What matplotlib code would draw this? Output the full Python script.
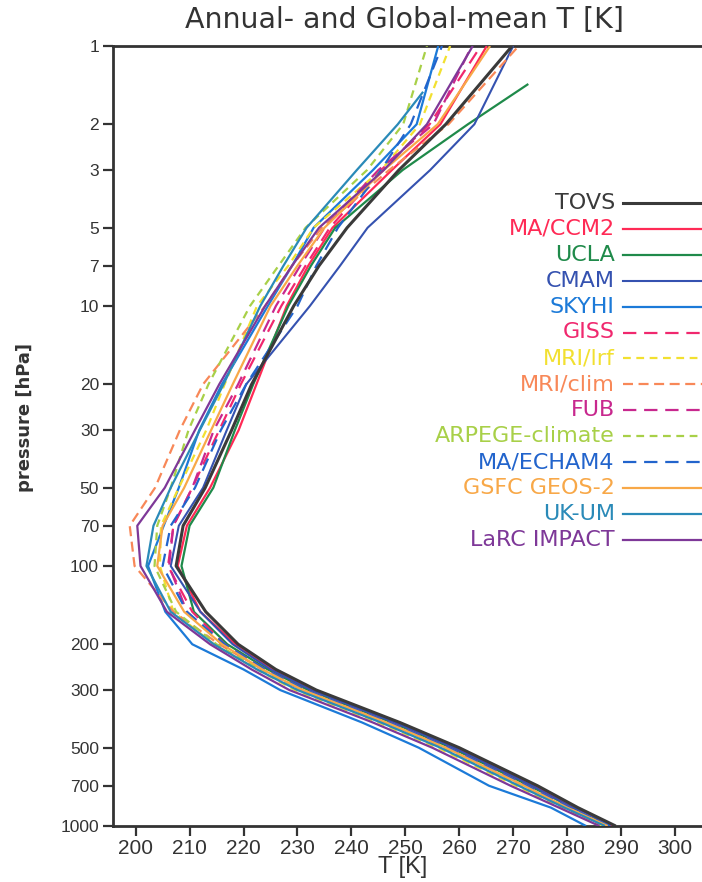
import numpy as np
import matplotlib
matplotlib.use('Agg')
import matplotlib.pyplot as plt

# pressure levels [hPa] shared by all profiles (last level may differ, see top_p)
levels = [1000, 850, 700, 500, 400, 300, 250, 200, 150, 100,
          70, 50, 30, 20, 10, 7, 5, 3, 2, 1]

names = ['TOVS', 'MA/CCM2', 'UCLA', 'CMAM', 'SKYHI', 'GISS', 'MRI/lrf',
         'MRI/clim', 'FUB', 'ARPEGE-climate', 'MA/ECHAM4', 'GSFC GEOS-2',
         'UK-UM', 'LaRC IMPACT']

# temperature [K], one list per model, ordered as levels
t_tovs = [289, 282, 274.5, 260, 249, 233.5, 226, 219, 213, 207.5,
          208.8, 212.9, 217.8, 221.5, 229.3, 234, 239.2, 248.8, 257.5, 269.8]
t_ccm2 = [288.5, 281.5, 274, 259.5, 248.5, 233, 225.5, 218.5, 212, 207.8,
          209.5, 213.8, 219.1, 222.4, 228, 232, 236.5, 247.5, 256.5, 265.1]
t_ucla = [288, 281, 273, 258.5, 247.5, 232, 224.5, 217, 210.8, 208.5,
          210, 214.4, 218.4, 221.8, 228.3, 232.5, 237, 249.5, 261.6, 272.8]
t_cmam = [288, 281, 273.5, 259, 248, 232.5, 225, 218, 212, 206.5,
          208, 212.5, 216.9, 220.5, 232.3, 237.9, 243, 254.6, 262.8, 270]
t_skyhi = [283.5, 277, 265.5, 252.5, 242, 226.8, 220, 210.5, 205.5, 202.3,
           205.2, 208, 211.8, 216, 224.5, 229, 233, 244, 252.1, 256.1]
t_giss = [288, 280.5, 272.5, 258, 247, 231.5, 224, 216.5, 210.5, 206,
          207, 210.5, 215.5, 219.5, 227, 231.5, 236, 245.5, 254.5, 264]
t_mrilrf = [286.5, 279, 270.5, 256, 245, 229.5, 222.5, 214.5, 207, 204.5,
            204.7, 208, 213.1, 216.5, 222.5, 228.3, 233, 245.5, 252.7, 258.3]
t_mriclim = [287.5, 280, 272, 257.5, 246.5, 231, 223.5, 215.5, 207, 199.8,
             198.9, 203.6, 208.2, 212.5, 224, 229, 234.5, 247, 258, 271]
t_fub = [288, 280.5, 272.5, 258, 247, 231, 223.5, 216, 209.5, 206.2,
         207, 210.5, 214.5, 219, 226, 230.5, 235, 245, 255.2, 262.3]
t_arpege = [287.5, 280, 271.5, 257, 246, 230.5, 223, 215, 207.5, 203.5,
            204, 206.5, 209.8, 213.5, 221.2, 226.5, 231.5, 242.9, 249.6, 254]
t_echam = [288, 280.5, 272.5, 258, 247, 231.5, 224, 216.5, 209.5, 205,
           206.5, 211, 215.8, 220.5, 230, 233.5, 237.5, 245.5, 251, 256.8]
t_gsfc = [287.5, 280, 272, 257.5, 246.5, 231, 223.5, 216, 209, 204,
          205, 209, 214, 218, 225, 230, 235, 246, 256, 265.7]
t_ukum = [287, 279.5, 271, 256.5, 245.5, 230, 222.5, 214.5, 206.5, 202,
          203.3, 206.5, 211.9, 216.3, 223.1, 227.4, 231.7, 241, 248.6, 253.3]
t_larc = [286, 278.5, 269.5, 255, 244, 228.5, 221.5, 213.8, 205.8, 200.9,
          200.3, 205.4, 211, 215.5, 224, 229, 234, 246, 254, 262.5]

# top level of each profile (UCLA and UK-UM stop below 1 hPa)
top_p = [1, 1, 1.4, 1, 1, 1, 1, 1, 1, 1, 1, 1, 1.5, 1]

profiles = [t_tovs, t_ccm2, t_ucla, t_cmam, t_skyhi, t_giss, t_mrilrf,
            t_mriclim, t_fub, t_arpege, t_echam, t_gsfc, t_ukum, t_larc]

colors = ['#3a3a3a', '#ff2a55', '#1f8a4a', '#3552b0', '#1c7ad8', '#f0286e',
          '#f2e030', '#f88858', '#c8288e', '#a8d048', '#2264cc', '#f8a848',
          '#2a8ab8', '#7e3898']
dashes = [None, None, None, None, None, (6, 3.5), (3.5, 2.5), (4.5, 2.5),
          (6, 3.5), (3.5, 2.5), (6, 3.5), None, None, None]
widths = [2.2, 1.6, 1.6, 1.5, 1.6, 1.6, 1.6, 1.6, 1.6, 1.6, 1.6, 1.6, 1.6, 1.6]

tick_font = ['Liberation Sans', 'DejaVu Sans']

fig = plt.figure(figsize=(7.02, 8.82), dpi=100)
ax = fig.add_axes([113 / 702, 1 - 826 / 882, 1 - 113 / 702, 780 / 882])

for i in range(len(names)):
    p = list(levels[:-1]) + [top_p[i]]
    kw = dict(color=colors[i], lw=widths[i], solid_capstyle='butt')
    if dashes[i] is not None:
        kw['dashes'] = dashes[i]
    ax.plot(profiles[i], p, zorder=10 if i == 0 else 5, **kw)

ax.set_yscale('log')
ax.set_ylim(1000, 1)
ax.set_xlim(195.8, 305)

yt = [1, 2, 3, 5, 7, 10, 20, 30, 50, 70, 100, 200, 300, 500, 700, 1000]
ax.set_yticks(yt)
ax.set_yticklabels([str(v) for v in yt])
ax.yaxis.set_minor_locator(matplotlib.ticker.NullLocator())
ax.set_xticks(np.arange(200, 301, 10))

for s in ['left', 'bottom', 'top']:
    ax.spines[s].set_linewidth(2)
    ax.spines[s].set_color('#333333')
ax.spines['right'].set_visible(False)
ax.tick_params(axis='both', direction='out', length=7, width=1.6,
               color='#333333')
ax.tick_params(axis='x', pad=2)
ax.tick_params(axis='y', pad=3)
for lab in ax.get_xticklabels():
    lab.set_family(tick_font)
    lab.set_color('#333333')
    lab.set_fontsize(15)
for lab in ax.get_yticklabels():
    lab.set_family(tick_font)
    lab.set_color('#333333')
    lab.set_fontsize(12.5)

# legend drawn by hand: coloured label, line sample running off the right edge
row0 = 1 - (203 - 46) / 780
step = 25.9 / 780
for i in range(len(names)):
    yy = row0 - i * step
    ax.text(0.852, yy, names[i], color=colors[i], ha='right', va='center',
            fontsize=16, transform=ax.transAxes)
    kw = dict(color=colors[i], lw=widths[i])
    if dashes[i] is not None:
        kw['dashes'] = dashes[i]
    ax.plot([0.866, 1.0], [yy, yy], transform=ax.transAxes, clip_on=False, **kw)

fig.text(405 / 702, 1 - 20 / 882, 'Annual- and Global-mean T [K]',
         ha='center', va='center', fontsize=20.5, color='#333333')
fig.text(403 / 702, 1 - 867 / 882, 'T [K]', ha='center', va='center',
         fontsize=17, color='#333333', family=tick_font)
fig.text(25 / 702, 1 - 418 / 882, 'pressure [hPa]', ha='center', va='center',
         rotation=90, fontsize=13, fontweight='bold', color='#333333')

fig.savefig('out.png', dpi=100)
